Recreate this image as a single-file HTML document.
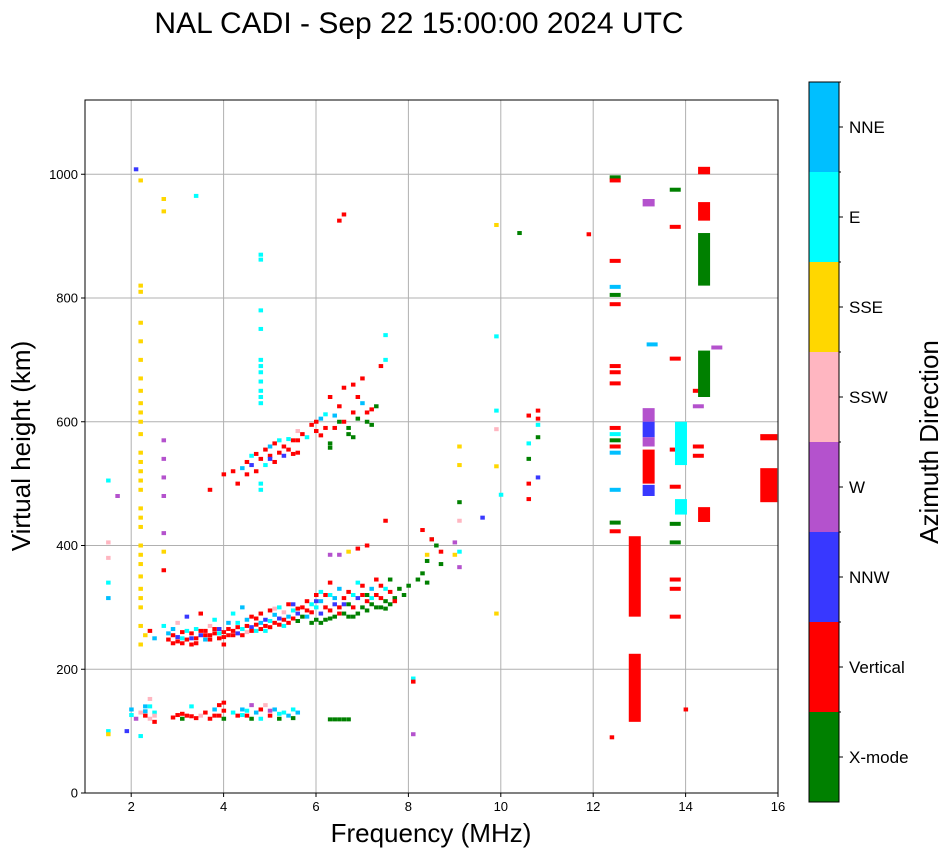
<!DOCTYPE html>
<html><head><meta charset="utf-8"><style>
body{margin:0;background:#fff;font-family:"Liberation Sans",sans-serif}
svg text{font-family:"Liberation Sans",sans-serif}
</style></head><body>
<svg id="chart" width="951" height="856" xmlns="http://www.w3.org/2000/svg">
<text x="419" y="33" font-size="30" text-anchor="middle">NAL CADI - Sep 22 15:00:00 2024 UTC</text>
<g id="grid"></g>
<g id="marks"></g>
<rect x="85" y="100" width="693" height="693" fill="none" stroke="#000" stroke-width="1"/>
<g id="axes"></g>
<text x="431" y="842" font-size="26" text-anchor="middle">Frequency (MHz)</text>
<text transform="translate(30,446) rotate(-90)" font-size="26" text-anchor="middle">Virtual height (km)</text>
<g id="cbar"></g>
<text transform="translate(938,442) rotate(-90)" font-size="26" text-anchor="middle">Azimuth Direction</text>
</svg>
<script>
const directions=["X-mode","Vertical","NNW","W","SSW","SSE","E","NNE"];
const dirColors=["#008000","#ff0000","#3838ff","#b452cd","#ffb6c1","#ffd700","#00ffff","#00bfff"];
const xTicks=[2,4,6,8,10,12,14,16];
const yTicks=[0,200,400,600,800,1000];
// E layer echoes [freq MHz, height km, direction index]
const eLayer=[[1.5,100,6],[1.5,95,5],[1.9,100,2],[2.0,135,7],[2.0,126,6],[2.1,120,3],[2.2,130,4],[2.2,92,6],[2.3,140,7],[2.3,125,1],[2.4,120,4],[2.4,152,4],[2.5,130,6],[2.5,115,1],[2.3,132,7],[2.4,140,6],[2.5,125,4],[2.9,122,1],[3.0,126,1],[3.1,120,0],[3.2,125,1],[3.3,140,6],[3.4,121,1],[3.5,125,4],[3.6,130,1],[3.7,120,1],[3.8,135,7],[3.9,142,1],[3.9,125,1],[4.0,146,1],[4.0,120,0],[4.0,133,1],[3.8,125,1],[3.3,124,1],[3.1,128,1],[4.2,130,6],[4.3,125,1],[4.4,135,7],[4.5,125,1],[4.6,142,3],[4.6,120,0],[4.7,130,7],[4.8,135,1],[4.8,120,6],[4.9,142,4],[5.0,125,1],[5.1,135,7],[5.2,120,0],[5.3,130,6],[5.4,125,7],[5.5,135,6],[5.5,121,0],[5.6,130,7],[4.5,133,6],[4.4,126,6],[5.0,133,3],[5.2,128,6],[6.3,119,0],[6.4,119,0],[6.5,119,0],[6.6,119,0],[6.7,119,0],[8.1,185,6],[8.1,180,1],[8.1,95,3],[12.4,90,1],[14.0,135,1]];
// F layer first hop echoes
const fLayer=[[2.3,255,5],[2.4,262,1],[2.5,250,7],[2.7,270,6],[2.8,248,1],[2.9,255,1],[2.9,265,7],[3.0,245,1],[3.0,275,4],[3.1,250,6],[3.1,260,1],[3.2,248,1],[3.2,285,2],[3.3,258,1],[3.3,240,1],[3.4,265,6],[3.4,250,1],[3.5,255,2],[3.5,290,1],[3.6,262,1],[3.6,248,7],[3.7,270,4],[3.7,255,1],[3.8,258,1],[3.8,280,6],[3.9,250,1],[3.9,265,2],[4.0,260,1],[4.0,240,1],[4.1,255,1],[4.1,275,7],[4.2,262,1],[4.2,290,6],[4.3,258,2],[4.3,268,1],[4.4,265,6],[4.4,300,7],[4.5,270,1],[4.5,260,4],[4.6,268,2],[4.6,285,1],[4.7,272,1],[4.7,262,6],[4.8,275,7],[4.8,290,1],[4.9,270,1],[4.9,280,2],[5.0,278,6],[5.0,295,1],[5.1,275,1],[5.1,288,7],[5.2,282,2],[5.2,300,6],[5.3,280,1],[5.3,292,4],[5.4,285,7],[5.4,305,1],[5.5,282,1],[5.5,295,6],[5.6,290,2],[5.6,278,0],[5.7,300,1],[5.8,285,7],[5.8,310,1],[5.9,292,1],[6.0,280,0],[6.0,300,6],[6.0,320,1],[6.1,290,2],[6.1,310,7],[6.2,280,0],[6.2,300,1],[6.3,295,1],[6.3,320,6],[6.4,285,0],[6.4,305,2],[6.5,300,1],[6.5,330,7],[6.6,290,0],[6.6,315,1],[6.7,305,0],[6.7,325,1],[6.8,285,0],[6.8,300,1],[6.9,315,2],[6.9,340,6],[7.0,300,0],[7.0,320,1],[7.1,310,1],[7.1,295,0],[7.2,330,7],[7.2,305,0],[7.3,320,1],[7.3,345,1],[7.4,300,0],[7.4,315,1],[7.5,330,6],[7.5,310,0],[7.6,325,1],[7.6,345,0],[7.7,315,0],[7.8,330,0],[7.9,320,0],[8.0,335,0],[8.2,345,0],[8.3,355,0],[8.4,340,0],[8.4,375,0],[8.4,385,5],[8.5,410,0],[8.6,400,0],[8.7,390,1],[8.7,370,0],[9.0,385,5],[9.0,405,3],[9.1,390,6],[6.3,385,3],[6.5,385,3],[6.7,390,5],[6.9,395,1],[7.1,400,1],[7.5,440,1],[8.3,425,1],[8.5,410,1],
[2.8,258,7],[2.9,242,1],[3.0,252,2],[3.1,242,1],[3.2,262,6],[3.3,250,2],[3.4,242,1],[3.5,262,1],[3.6,255,1],[3.7,248,1],[3.8,265,1],[3.9,258,6],[4.0,252,1],[4.1,265,1],[4.2,255,1],[4.3,275,6],[4.4,255,1],[4.5,280,7],[4.6,262,1],[4.7,282,1],[4.8,265,1],[4.9,262,6],[5.0,268,1],[5.1,298,4],[5.2,272,1],[5.3,270,6],[5.4,275,1],[5.5,305,2],[5.6,298,1],[5.7,285,0],[5.8,295,1],[5.9,275,0],[6.0,310,2],[6.1,275,0],[6.2,320,1],[6.3,282,0],[6.4,315,7],[6.5,290,1],[6.6,305,2],[6.7,285,0],[6.8,320,6],[6.9,290,0],[7.0,335,1],[7.1,320,0],[7.2,315,6],[7.3,300,0],[7.4,335,1],[7.5,298,0],[7.6,305,0],[7.7,310,1],[5.9,305,6],[6.1,325,6],[6.3,340,1]];
// F layer second hop echoes
const fLayer2=[[3.7,490,1],[4.0,515,1],[4.2,520,1],[4.3,500,1],[4.4,525,7],[4.5,515,1],[4.6,530,2],[4.7,520,1],[4.8,540,1],[4.9,530,6],[5.0,545,1],[5.0,560,7],[5.1,535,1],[5.2,550,1],[5.2,570,6],[5.3,545,2],[5.4,555,1],[5.5,570,1],[5.6,585,4],[5.6,550,1],[5.8,575,6],[5.9,595,1],[6.0,585,1],[6.1,605,7],[6.2,590,1],[6.3,640,1],[6.3,565,0],[6.3,558,0],[6.4,610,7],[6.5,625,1],[6.6,600,1],[6.7,580,0],[6.8,615,1],[6.9,640,1],[6.9,605,0],[7.0,630,7],[7.1,600,0],[7.2,620,1],[7.3,625,0],[7.4,690,1],[7.5,700,6],[6.6,655,1],[6.8,660,1],[7.0,670,1],[6.6,935,1],[6.5,925,1],
[4.5,535,1],[4.6,545,6],[4.7,548,1],[4.9,555,1],[5.0,540,2],[5.1,565,1],[5.3,560,1],[5.4,572,6],[5.5,548,1],[5.6,570,1],[5.7,580,1],[6.0,600,1],[6.1,578,1],[6.2,612,6],[6.4,590,1],[6.5,600,0],[6.7,590,0],[6.8,575,0],[7.1,615,1],[7.2,595,0]];
// scattered echoes
const scatter=[[2.2,240,5],[2.2,270,5],[2.2,300,5],[2.2,315,5],[2.2,330,5],[2.2,350,5],[2.2,370,5],[2.2,385,5],[2.2,400,5],[2.2,430,5],[2.2,445,5],[2.2,460,5],[2.2,490,5],[2.2,505,5],[2.2,520,5],[2.2,535,5],[2.2,550,5],[2.2,580,5],[2.2,600,5],[2.2,615,5],[2.2,630,5],[2.2,650,5],[2.2,670,5],[2.2,700,5],[2.2,730,5],[2.2,760,5],[2.2,810,5],[2.2,820,5],[2.2,990,5],[2.1,1008,2],[2.7,940,5],[2.7,960,5],[2.7,570,3],[2.7,540,3],[2.7,510,3],[2.7,480,3],[2.7,420,3],[2.7,390,5],[2.7,360,1],[3.4,965,6],[4.8,870,6],[4.8,862,6],[4.8,780,6],[4.8,750,6],[4.8,700,6],[4.8,690,6],[4.8,680,6],[4.8,665,6],[4.8,650,6],[4.8,640,6],[4.8,630,6],[4.8,500,6],[4.8,490,6],[1.5,505,6],[1.7,480,3],[1.5,405,4],[1.5,380,4],[1.5,340,6],[1.5,315,7],[7.5,740,6],[9.1,560,5],[9.1,530,5],[9.1,470,0],[9.1,440,4],[9.1,365,3],[9.6,445,2],[9.9,918,5],[9.9,738,6],[9.9,618,6],[9.9,588,4],[9.9,528,5],[9.9,290,5],[10.0,482,6],[10.4,905,0],[10.6,610,1],[10.6,565,6],[10.6,540,0],[10.6,500,1],[10.6,475,1],[10.8,618,1],[10.8,605,1],[10.8,595,6],[10.8,575,0],[10.8,510,2],[11.9,903,1],[12.4,995,0],[12.4,990,1],[12.4,860,1],[12.4,818,7],[12.4,805,0],[12.4,790,1],[12.4,690,1],[12.4,680,1],[12.4,662,1],[12.4,590,1],[12.4,580,6],[12.4,570,0],[12.4,560,1],[12.4,550,7],[12.4,490,7],[12.4,437,0],[12.4,423,1],[13.2,725,7],[13.7,975,0],[13.7,915,1],[13.7,702,1],[13.7,555,1],[13.7,495,1],[13.7,435,0],[13.7,405,0],[13.7,345,1],[13.7,330,1],[13.7,285,1],[14.2,650,1],[14.2,625,3],[14.2,560,1],[14.2,545,1],[14.6,720,3]];
// tall columns [freq, bottom km, top km, direction]
const columns=[[12.9,115,225,1],[12.9,285,415,1],[13.2,600,622,3],[13.2,575,600,2],[13.2,560,575,3],[13.2,500,555,1],[13.2,480,498,2],[13.2,948,960,3],[13.9,530,600,6],[13.9,450,475,6],[14.4,640,715,0],[14.4,820,905,0],[14.4,925,955,1],[14.4,1000,1012,1],[14.4,438,462,1],[15.8,470,525,1],[15.8,570,580,1]];

const X0=85,X1=778,Y0=793,Y1=100,FMIN=1,FMAX=16,HMIN=0,HMAX=1120;
const xs=f=>X0+(f-FMIN)/(FMAX-FMIN)*(X1-X0);
const ys=h=>Y0-(h-HMIN)/(HMAX-HMIN)*(Y0-Y1);
const NS="http://www.w3.org/2000/svg";
function mk(tag,attrs,parent){const e=document.createElementNS(NS,tag);for(const k in attrs)e.setAttribute(k,attrs[k]);parent.appendChild(e);return e;}
const grid=document.getElementById('grid'),marks=document.getElementById('marks'),axes=document.getElementById('axes'),cbar=document.getElementById('cbar');
xTicks.forEach(t=>{const x=xs(t);
 const g=mk('line',{x1:x,x2:x,y1:Y1,y2:Y0,stroke:'#b0b0b0','stroke-width':1},grid);
 
 
 mk('line',{x1:x,x2:x,y1:Y0,y2:Y0+4,stroke:'#000'},axes);
 const tx=mk('text',{x:x,y:Y0+18,'font-size':13,'text-anchor':'middle'},axes);tx.textContent=t;
 
 });
yTicks.forEach(t=>{const y=ys(t);
 const g=mk('line',{x1:X0,x2:X1,y1:y,y2:y,stroke:'#b0b0b0','stroke-width':1},grid);
 
 
 mk('line',{x1:X0-4,x2:X0,y1:y,y2:y,stroke:'#000'},axes);
 const tx=mk('text',{x:X0-7,y:y+4.5,'font-size':13,'text-anchor':'end'},axes);tx.textContent=t;
 
 });
function cell(f,h,c,w){const r=mk('rect',{x:xs(f)-2,y:ys(h)-2,width:w||4.5,height:4,fill:dirColors[c]},marks);
 
 }
eLayer.forEach(p=>cell(p[0],p[1],p[2]));
fLayer.forEach(p=>cell(p[0],p[1],p[2]));
fLayer2.forEach(p=>cell(p[0],p[1],p[2]));
scatter.forEach(p=>cell(p[0],p[1],p[2],p[0]>12?11:4.5));
columns.forEach(p=>{const w=p[0]>15?17:12;
 const r=mk('rect',{x:xs(p[0])-w/2,y:ys(p[2]),width:w,height:ys(p[1])-ys(p[2]),fill:dirColors[p[3]]},marks);
 
 });
const CB0=802,CBH=90;
directions.forEach((d,i)=>{const y=CB0-(i+1)*CBH;
 const r=mk('rect',{x:809,y:y,width:30,height:CBH,fill:dirColors[i]},cbar);
 
 
 mk('line',{x1:839,x2:843,y1:y+CBH/2,y2:y+CBH/2,stroke:'#000'},cbar);
 mk('line',{x1:839,x2:841,y1:y,y2:y,stroke:'#000'},cbar);
 const t=mk('text',{x:849,y:y+CBH/2+6,'font-size':17},cbar);t.textContent=d;
 
 });
const fr=mk('rect',{x:809,y:82,width:30,height:720,fill:'none',stroke:'#000'},cbar);


</script>
</body></html>
